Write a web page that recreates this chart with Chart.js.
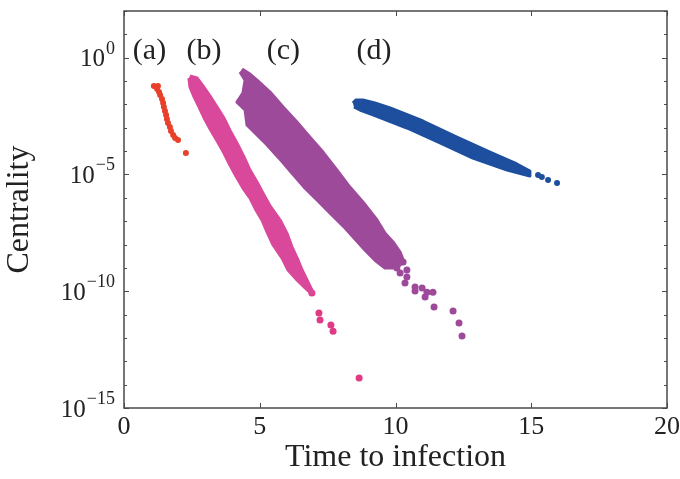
<!DOCTYPE html>
<html><head><meta charset="utf-8">
<script src="https://cdn.jsdelivr.net/npm/chart.js@4"></script>
<style>html,body{margin:0;padding:0;background:#fff}</style>
</head><body>
<canvas id="c" width="680" height="479"></canvas>
<script>
// ---- axis ticks ----
const xTickValues = [0, 5, 10, 15, 20];
const yLabelExps = [0, -5, -10, -15];
const yDecadeExps = [2, 1, 0, -1, -2, -3, -4, -5, -6, -7, -8, -9, -10, -11, -12, -13, -14, -15];

// ---- panel labels ----
const panelLabels = ['(a)', '(b)', '(c)', '(d)'];
const panelLabelX = [0.94, 2.95, 5.87, 9.21];
const panelLabelExp = 0.29;

// ---- (a) points: x = time, e = log10(centrality) ----
const aX = [1.10, 1.25, 1.22, 1.29, 1.33, 1.40, 1.44, 1.47, 1.51, 1.55, 1.58, 1.62, 1.69, 1.73, 1.81, 1.88, 1.99, 2.28];
const aE = [-1.21, -1.21, -1.34, -1.47, -1.60, -1.77, -1.94, -2.11, -2.28, -2.45, -2.63, -2.80, -2.97, -3.14, -3.31, -3.44, -3.52, -4.08];

// ---- (b) dense cloud outline + sparse points ----
const bOutlineX = [2.43, 2.69, 2.91, 3.17, 3.43, 3.68, 3.90, 4.16, 4.42, 4.64, 4.90, 5.12, 5.38, 5.75, 6.00, 6.19, 6.41, 6.56, 6.78, 6.96,
                   6.92, 6.67, 6.37, 6.04, 5.82, 5.49, 5.27, 5.08, 4.86, 4.64, 4.38, 4.12, 3.90, 3.68, 3.43, 3.17, 2.95, 2.76, 2.58, 2.43, 2.39];
const bOutlineE = [-0.78, -0.87, -1.21, -1.64, -2.11, -2.58, -3.10, -3.65, -4.25, -4.81, -5.32, -5.80, -6.35, -6.95, -7.51, -8.11, -8.66, -9.09, -9.61, -10.04,
                   -10.12, -9.86, -9.52, -9.09, -8.58, -8.02, -7.47, -6.95, -6.52, -6.01, -5.58, -5.07, -4.60, -4.08, -3.57, -3.05, -2.58, -2.11, -1.68, -1.26, -0.87];
const bDotX = [6.59, 6.92, 7.18, 7.22, 7.62, 7.70, 8.66];
const bDotE = [-9.44, -10.08, -10.93, -11.23, -11.45, -11.71, -13.72];

// ---- (c) dense cloud outline + sparse points ----
const cOutlineX = [4.35, 4.64, 4.90, 5.38, 5.86, 6.37, 6.85, 7.33, 7.84, 8.32, 8.80, 9.32, 9.61, 9.91, 10.17, 10.31, 10.02,
                   9.61, 9.28, 8.88, 8.54, 8.14, 7.62, 7.11, 6.63, 6.15, 5.71, 5.27, 4.90, 4.53, 4.46, 4.16, 4.38, 4.46, 4.27];
const cOutlineE = [-0.48, -0.70, -0.96, -1.47, -2.11, -2.75, -3.40, -4.04, -4.81, -5.54, -6.18, -6.95, -7.51, -7.89, -8.32, -8.75, -9.01,
                   -9.01, -8.71, -8.24, -7.81, -7.29, -6.69, -6.09, -5.54, -4.90, -4.30, -3.74, -3.31, -2.88, -2.24, -1.90, -1.51, -0.96, -0.61];
const cDotX = [10.05, 10.28, 10.42, 10.17, 10.42, 10.35, 10.72, 10.98, 10.72, 11.16, 11.38, 11.09, 11.42, 12.12, 12.34, 12.45];
const cDotE = [-9.01, -8.75, -9.09, -9.22, -9.39, -9.65, -9.82, -9.86, -9.99, -10.04, -10.04, -10.25, -10.68, -10.85, -11.36, -11.92];

// ---- (d) dense cloud outline + sparse points ----
const dOutlineX = [8.43, 8.54, 8.80, 9.24, 9.80, 11.01, 12.26, 13.48, 14.47, 14.95, 14.95, 14.11, 12.85, 11.64, 10.42, 9.17, 8.69, 8.47];
const dOutlineE = [-1.94, -1.81, -1.81, -1.94, -2.15, -2.71, -3.40, -4.04, -4.55, -4.85, -5.07, -4.81, -4.30, -3.65, -3.01, -2.45, -2.24, -2.11];
const dDotX = [15.25, 15.39, 15.62, 15.95];
const dDotE = [-5.02, -5.11, -5.24, -5.37];

const toPoints = (xs, es) => xs.map((x, i) => ({ x: x, y: Math.pow(10, es[i]) }));

const RED = '#e8402a', PINK = '#d9489a', PINK_DOT = '#e03a84', PURPLE = '#9e4a9b', BLUE = '#1e4f9f';
const SERIF = '"Liberation Serif", "DejaVu Serif", serif';

function band(label, xs, es, color) {
  return { type: 'line', label, data: toPoints(xs, es), fill: 'shape', backgroundColor: color,
           borderColor: color, borderWidth: 3, borderJoinStyle: 'round', pointRadius: 0, tension: 0 };
}
function dots(label, xs, es, color, r) {
  return { type: 'scatter', label, data: toPoints(xs, es), backgroundColor: color, borderColor: color,
           borderWidth: 0, pointRadius: r };
}

const decor = {
  id: 'decor',
  afterDraw(chart) {
    const { ctx, chartArea: a, scales: { x, y } } = chart;
    ctx.save();
    ctx.strokeStyle = '#4a4a4a';
    ctx.lineWidth = 1.5;
    ctx.strokeRect(a.left, a.top, a.right - a.left, a.bottom - a.top);
    ctx.lineWidth = 1;
    ctx.beginPath();
    yDecadeExps.forEach(e => {
      const py = Math.round(y.getPixelForValue(Math.pow(10, e))) + 0.5;
      const len = yLabelExps.includes(e) ? 5 : 3;
      ctx.moveTo(a.left, py); ctx.lineTo(a.left + len, py);
      ctx.moveTo(a.right, py); ctx.lineTo(a.right - len, py);
    });
    xTickValues.forEach(v => {
      const px = Math.round(x.getPixelForValue(v)) + 0.5;
      ctx.moveTo(px, a.bottom); ctx.lineTo(px, a.bottom - 5);
      ctx.moveTo(px, a.top); ctx.lineTo(px, a.top + 5);
    });
    ctx.stroke();
    ctx.fillStyle = '#222';
    ctx.textAlign = 'right';
    ctx.textBaseline = 'alphabetic';
    yLabelExps.forEach(e => {
      const py = y.getPixelForValue(Math.pow(10, e));
      const sup = e === 0 ? '0' : '\u2212' + String(-e);
      const right = a.left - 9;
      ctx.font = '18px ' + SERIF;
      const wSup = ctx.measureText(sup).width;
      ctx.fillText(sup, right, py - 4);
      ctx.font = '25px ' + SERIF;
      ctx.fillText('10', right - wSup - 1, py + 8.5);
    });
    ctx.font = '30px ' + SERIF;
    ctx.textAlign = 'center';
    ctx.textBaseline = 'middle';
    panelLabels.forEach((t, i) => {
      ctx.fillText(t, x.getPixelForValue(panelLabelX[i]), y.getPixelForValue(Math.pow(10, panelLabelExp)));
    });
    ctx.restore();
  }
};

new Chart(document.getElementById('c'), {
  type: 'scatter',
  data: {
    datasets: [
      dots('(a)', aX, aE, RED, 3),
      band('(b)', bOutlineX, bOutlineE, PINK),
      dots('(b) sparse', bDotX, bDotE, PINK_DOT, 3.5),
      band('(c)', cOutlineX, cOutlineE, PURPLE),
      dots('(c) sparse', cDotX, cDotE, PURPLE, 3.5),
      band('(d)', dOutlineX, dOutlineE, BLUE),
      dots('(d) sparse', dDotX, dDotE, BLUE, 3)
    ]
  },
  options: {
    responsive: false,
    devicePixelRatio: 1,
    animation: false,
    layout: { padding: { top: 11, right: 13, bottom: 0, left: 0 } },
    plugins: { legend: { display: false }, tooltip: { enabled: false } },
    scales: {
      x: {
        type: 'linear', min: 0, max: 20,
        afterBuildTicks: s => { s.ticks = xTickValues.map(v => ({ value: v })); },
        afterFit: s => { s.height = 71; s.paddingLeft = 0; s.paddingRight = 0; },
        grid: { display: false, drawTicks: false },
        border: { display: false },
        ticks: { color: '#222', padding: 6, font: { family: SERIF, size: 26, lineHeight: 1 } },
        title: { display: true, text: 'Time to infection', color: '#222',
                 font: { family: SERIF, size: 32, lineHeight: 1 }, padding: { top: 0, bottom: 5 } }
      },
      y: {
        type: 'logarithmic', min: 1e-15, max: 100,
        afterBuildTicks: s => { s.ticks = yDecadeExps.map(e => ({ value: Math.pow(10, e) })); },
        afterFit: s => { s.width = 124; s.paddingTop = 0; s.paddingBottom = 0; },
        grid: { display: false, drawTicks: false },
        border: { display: false },
        ticks: { display: false },
        title: { display: true, text: 'Centrality', color: '#222',
                 font: { family: SERIF, size: 32, lineHeight: 1 }, padding: { top: 4, bottom: 0 } }
      }
    }
  },
  plugins: [decor]
});
</script>
</body></html>
